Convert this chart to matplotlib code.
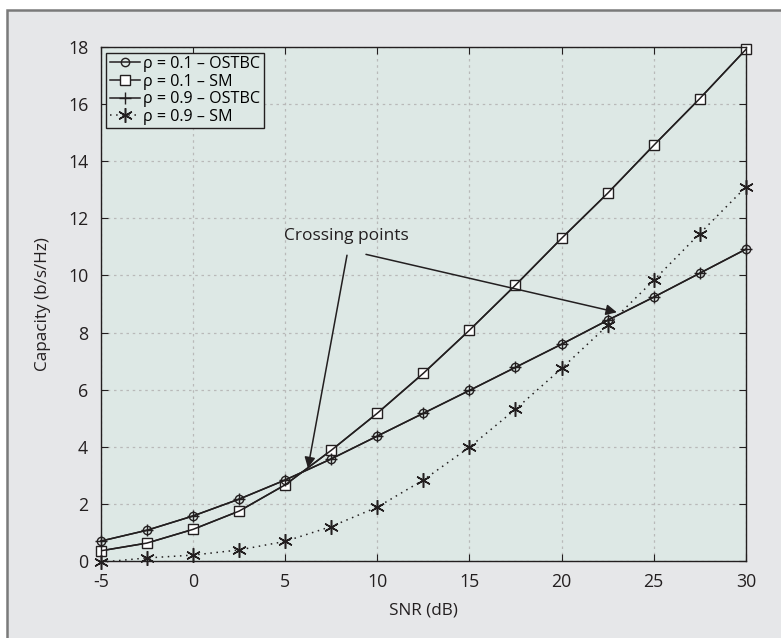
import matplotlib
matplotlib.use('Agg')
import matplotlib.pyplot as plt
from matplotlib.patches import Rectangle

plt.rcParams['font.family'] = ['Open Sans', 'DejaVu Sans']
plt.rcParams['axes.unicode_minus'] = False

# SNR (dB)
snr = [-5, -2.5, 0, 2.5, 5, 7.5, 10, 12.5, 15, 17.5, 20, 22.5, 25, 27.5, 30]

# capacity (b/s/Hz)
ostbc_01 = [0.69, 1.07, 1.57, 2.16, 2.83, 3.57, 4.37, 5.17, 5.97, 6.78, 7.59, 8.43, 9.24, 10.08, 10.92]
sm_01 = [0.35, 0.62, 1.10, 1.74, 2.66, 3.87, 5.17, 6.57, 8.08, 9.66, 11.30, 12.88, 14.56, 16.20, 17.92]
ostbc_09 = [0.69, 1.07, 1.57, 2.16, 2.83, 3.57, 4.37, 5.17, 5.97, 6.78, 7.59, 8.43, 9.24, 10.08, 10.92]
sm_09 = [-0.05, 0.10, 0.20, 0.38, 0.68, 1.20, 1.88, 2.83, 3.98, 5.31, 6.74, 8.25, 9.83, 11.47, 13.10]

labels = ['ρ = 0.1 – OSTBC', 'ρ = 0.1 – SM', 'ρ = 0.9 – OSTBC', 'ρ = 0.9 – SM']

xticks = [-5, 0, 5, 10, 15, 20, 25, 30]
yticks = [0, 2, 4, 6, 8, 10, 12, 14, 16, 18]

ax_bg = '#dde8e5'
panel_bg = '#e6e7e9'
ink = '#231f20'

fig = plt.figure(figsize=(7.81, 6.38), dpi=100, facecolor='white')
fig.patches.append(Rectangle((7 / 781, -0.01), 1.0, 1 - 10 / 638 + 0.01,
                             transform=fig.transFigure, facecolor=panel_bg,
                             edgecolor='#7a7a7a', linewidth=1.8, zorder=-10))

ax = fig.add_axes([0.129, 0.121, 0.826, 0.805])
ax.set_facecolor(ax_bg)

asterisk = (6, 2, 0)
ax.plot(snr, ostbc_01, color=ink, lw=1.1, marker='o', ms=6, mfc='none', mec=ink, mew=1.0,
        label=labels[0], zorder=3, clip_on=False)
ax.plot(snr, sm_01, color=ink, lw=1.1, marker='s', ms=7, mfc='white', mec=ink, mew=1.0,
        label=labels[1], zorder=2, clip_on=False)
ax.plot(snr, sm_01, color=ink, lw=1.1, zorder=2.5)
ax.plot(snr, ostbc_09, color=ink, lw=1.1, marker='+', ms=9, mec=ink, mew=1.0,
        label=labels[2], zorder=3, clip_on=False)
ax.plot(snr, sm_09, color=ink, lw=1.1, ls=(0, (1, 3)), marker=asterisk, ms=10.5, mec=ink, mew=1.1,
        label=labels[3], zorder=3, clip_on=False)

ax.set_xlim(-5, 30)
ax.set_ylim(0, 18)
ax.set_xticks(xticks)
ax.set_xticklabels([str(t) for t in xticks])
ax.set_yticks(yticks)
ax.grid(True, color='#b9b9b9', ls=(0, (2, 3)), lw=0.9)
ax.set_axisbelow(True)
ax.tick_params(direction='in', length=5, top=True, right=True, labelsize=12.8, colors=ink, pad=9)
for s in ax.spines.values():
    s.set_color(ink)
    s.set_linewidth(1.0)

ax.set_xlabel('SNR (dB)', fontsize=12.3, color=ink, labelpad=8)
ax.set_ylabel('Capacity (b/s/Hz)', fontsize=12.3, color=ink, labelpad=12)

# crossing points annotation
ax.text(8.3, 11.38, 'Crossing points', fontsize=12.5, color=ink, ha='center', va='center')
arrow = dict(arrowstyle='-|>', color=ink, lw=1.1, mutation_scale=16, shrinkA=0, shrinkB=0)
ax.annotate('', xy=(6.24, 3.25), xytext=(8.36, 10.71), arrowprops=arrow, zorder=5)
ax.annotate('', xy=(23.0, 8.71), xytext=(9.39, 10.74), arrowprops=arrow, zorder=5)

leg = ax.legend(loc='upper left', fontsize=11.6, handlelength=1.9, handletextpad=0.2,
                labelspacing=0.1, borderaxespad=0.35, borderpad=0.2,
                fancybox=False, framealpha=1, facecolor=ax_bg, edgecolor=ink)
leg.get_frame().set_linewidth(1.0)
leg.set_zorder(6)

fig.savefig('out.png', dpi=100, facecolor=fig.get_facecolor())
